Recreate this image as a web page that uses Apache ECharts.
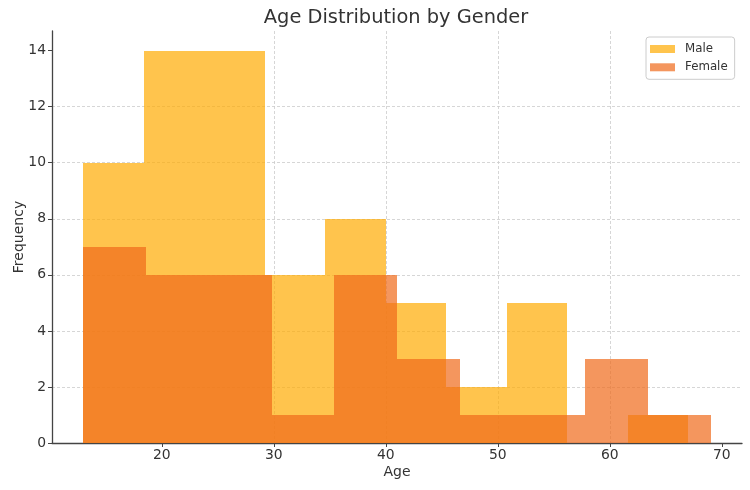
<!DOCTYPE html>
<html><head><meta charset="utf-8">
<script src="https://cdn.jsdelivr.net/npm/echarts@6/dist/echarts.min.js"></script>
<style>html,body{margin:0;padding:0;background:#fff}#c{width:750px;height:490px}</style>
</head><body><div id="c"></div>
<script>
const maleEdges = [13, 18.4, 23.8, 29.2, 34.6, 40, 45.4, 50.8, 56.2, 61.6, 67];
const maleCounts = [10, 14, 14, 6, 8, 5, 2, 5, 0, 1];
const femaleEdges = [13, 18.6, 24.2, 29.8, 35.4, 41, 46.6, 52.2, 57.8, 63.4, 69];
const femaleCounts = [7, 6, 6, 1, 6, 3, 1, 1, 3, 1];
const xTicks = [20, 30, 40, 50, 60, 70];
const yTicks = [0, 2, 4, 6, 8, 10, 12, 14];
const xRange = [10.2, 71.8];
const yRange = [0, 14.7];

const FONT = 'DejaVu Sans';
function bins(edges, counts) { return counts.map((c, i) => [edges[i], edges[i + 1], c]); }
function renderBin(params, api) {
  const x0 = api.value(0), x1 = api.value(1), c = api.value(2);
  if (!c) return null;
  const p0 = api.coord([x0, c]), p1 = api.coord([x1, 0]);
  const l = Math.round(p0[0]), r = Math.round(p1[0]);
  const t = Math.round(p0[1]), b = Math.round(p1[1]);
  return {
    type: 'rect',
    shape: { x: l, y: t, width: r - l, height: b - t },
    style: { fill: api.visual('color') }
  };
}
const chart = echarts.init(document.getElementById('c'), null, { renderer: 'canvas' });
chart.setOption({
  animation: false,
  backgroundColor: '#fff',
  textStyle: { fontFamily: FONT },
  title: {
    text: 'Age Distribution by Gender',
    left: 396, top: 8.5, padding: 0, textAlign: 'center',
    textStyle: { fontFamily: FONT, fontSize: 19.4, fontWeight: 'normal', color: '#333' }
  },
  legend: {
    left: 646, top: 37, orient: 'vertical',
    icon: 'rect', itemWidth: 25, itemHeight: 8, itemGap: 4.3,
    padding: [5, 7, 5, 4],
    borderColor: '#ccc', borderWidth: 1, borderRadius: 3, backgroundColor: 'rgba(255,255,255,0.8)',
    textStyle: { fontFamily: FONT, fontSize: 11.8, color: '#333', lineHeight: 14, padding: [0, 0, 0, 5] },
    data: ['Male', 'Female']
  },
  grid: { left: 52, right: 8, top: 31, bottom: 47, outerBoundsMode: 'none', containLabel: false },
  xAxis: {
    type: 'value', min: xRange[0], max: xRange[1],
    name: 'Age', nameLocation: 'middle', nameGap: 22, nameMoveOverlap: false,
    nameTextStyle: { fontFamily: FONT, fontSize: 14, color: '#333' },
    axisLine: { show: true, lineStyle: { color: '#444', width: 1.3 } },
    axisTick: { show: true, length: 4, lineStyle: { color: '#444', width: 1 }, customValues: xTicks },
    axisLabel: { fontFamily: FONT, fontSize: 13.9, color: '#333', margin: 5, customValues: xTicks },
    splitLine: { show: true, showMinLine: false, showMaxLine: false, lineStyle: { color: '#ccc', width: 0.8, type: [3, 2] } }
  },
  yAxis: {
    type: 'value', min: yRange[0], max: yRange[1], interval: 2,
    name: 'Frequency', nameLocation: 'middle', nameGap: 26, nameMoveOverlap: false,
    nameTextStyle: { fontFamily: FONT, fontSize: 14, color: '#333' },
    axisLine: { show: true, lineStyle: { color: '#444', width: 1.3 } },
    axisTick: { show: true, length: 4, lineStyle: { color: '#444', width: 1 }, customValues: yTicks },
    axisLabel: { fontFamily: FONT, fontSize: 13.9, color: '#333', margin: 6, customValues: yTicks },
    splitLine: { show: true, showMinLine: false, showMaxLine: false, lineStyle: { color: '#ccc', width: 0.8, type: [3, 2] } }
  },
  series: [
    {
      name: 'Male', type: 'custom', renderItem: renderBin,
      itemStyle: { color: 'rgba(255,171,2,0.7)' },
      encode: { x: [0, 1], y: 2 },
      data: bins(maleEdges, maleCounts)
    },
    {
      name: 'Female', type: 'custom', renderItem: renderBin,
      itemStyle: { color: 'rgba(240,105,26,0.7)' },
      encode: { x: [0, 1], y: 2 },
      data: bins(femaleEdges, femaleCounts)
    }
  ]
});
</script>
</body></html>
